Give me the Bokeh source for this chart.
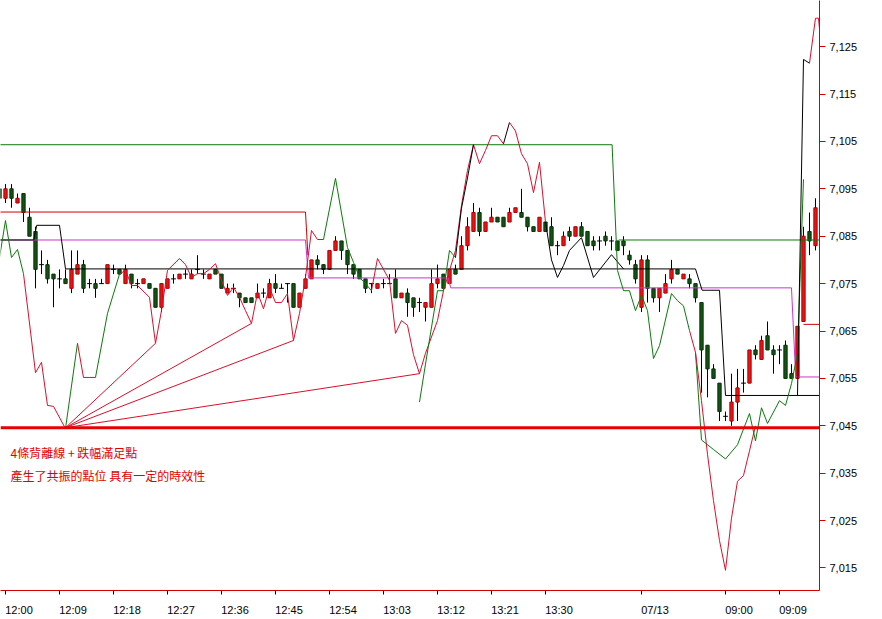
import numpy as np
from bokeh.plotting import figure
from bokeh.models import Range1d, FixedTicker, NumeralTickFormatter, Label, Span, ColumnDataSource
from bokeh.embed import file_html
from bokeh.resources import INLINE

# ---------------- data ----------------
bar_start = -1
opens = [7095,7093,7095,7092,7094,7089,7086,7079,7079,7077,7076,7076,7074,7077,7079,7075,7075,7075,7075,7078,7078,
         7075,7077,7075,7075,7075,7074,7070,7074,7076,7076,7077,7076,7078,7077,7076,7078,7077,7073,7074,7073,
         7072,7072,7072,7073,7072,7075,7074,7075,7075,7070,7074,7076,7080,7079,7078,7082,7084,7082,7079,7078,
         7076,7075,7074,7075,7075,7076,7072,7073,7072,7071,7070,7070,7075,7077,7075,7078,7078,7083,7086,7090,
         7086,7088,7089,7089,7088,7090,7090,7089,7087,7086,7088,7087,7083,7083,7086,7085,7087,7086,7084,7084,
         7085,7084,7084,7084,7081,7079,7070,7080,7074,7072,7073,7076,7078,7076,7076,7075,7071,7062,7057,7054,
         7047,7046,7050,7054,7054,7061,7059,7064,7061,7061,7062,7056,7055,7067,7086,7083]
highs = [7096,7096,7096,7094,7094,7091,7087,7082,7080,7077,7078,7078,7082,7082,7080,7076,7076,7076,7079,7079,7078,
         7079,7077,7076,7076,7075,7074,7075,7076,7077,7077,7078,7078,7081,7078,7077,7078,7077,7075,7075,7073,
         7072,7072,7075,7074,7076,7077,7075,7075,7075,7073,7077,7080,7081,7079,7082,7085,7084,7082,7079,7078,
         7076,7075,7075,7076,7077,7078,7073,7074,7072,7072,7071,7078,7079,7077,7078,7079,7085,7089,7092,7091,
         7088,7091,7089,7089,7091,7091,7095,7089,7087,7089,7088,7089,7084,7086,7087,7087,7088,7086,7085,7085,
         7086,7085,7084,7085,7082,7080,7081,7081,7074,7074,7077,7080,7078,7077,7077,7075,7071,7062,7058,7054,
         7048,7056,7057,7057,7061,7062,7064,7067,7062,7062,7063,7058,7066,7087,7090,7093]
lows = [7092,7092,7091,7092,7088,7085,7074,7077,7075,7070,7074,7075,7073,7077,7073,7074,7072,7075,7075,7077,7077,
        7075,7074,7074,7075,7074,7070,7069,7074,7075,7076,7076,7076,7077,7076,7076,7077,7074,7073,7073,7070,
        7071,7071,7072,7072,7072,7073,7074,7071,7070,7070,7074,7076,7078,7077,7078,7082,7080,7077,7076,7076,
        7073,7073,7074,7074,7075,7072,7072,7068,7068,7069,7067,7070,7074,7074,7075,7077,7078,7082,7086,7085,
        7086,7088,7088,7087,7088,7090,7089,7086,7086,7086,7086,7083,7081,7083,7084,7085,7085,7083,7082,7082,
        7083,7082,7082,7081,7079,7075,7069,7071,7071,7069,7073,7075,7077,7076,7074,7071,7052,7051,7055,7046,
        7046,7045,7046,7052,7054,7059,7059,7061,7056,7058,7055,7055,7055,7067,7081,7082]
closes = [7093,7095,7093,7093,7090,7085,7078,7079,7076,7076,7076,7075,7078,7079,7074,7075,7074,7075,7079,7078,7077,
          7078,7075,7075,7076,7074,7070,7075,7076,7076,7077,7077,7077,7078,7077,7077,7077,7074,7074,7074,7072,
          7071,7071,7073,7073,7075,7074,7074,7075,7070,7073,7076,7080,7079,7078,7082,7084,7082,7079,7077,7076,
          7074,7075,7075,7075,7075,7072,7073,7071,7070,7071,7071,7075,7076,7074,7078,7077,7083,7087,7090,7086,
          7088,7089,7088,7087,7090,7091,7089,7087,7086,7089,7086,7083,7083,7085,7085,7087,7085,7083,7083,7084,
          7084,7084,7082,7083,7080,7076,7080,7074,7072,7074,7075,7078,7077,7077,7075,7072,7061,7057,7055,7048,
          7047,7050,7053,7054,7061,7060,7063,7061,7060,7061,7055,7055,7066,7085,7084,7091]

time_tick_bars = [0, 9, 18, 27, 36, 45, 54, 63, 72, 81, 90, 106, 120, 129]
time_tick_labels = ["12:00", "12:09", "12:18", "12:27", "12:36", "12:45", "12:54",
                    "13:03", "13:12", "13:21", "13:30", "07/13", "09:00", "09:09"]
price_ticks = [7015, 7025, 7035, 7045, 7055, 7065, 7075, 7085, 7095, 7105, 7115, 7125, 7135]

support_level = 7044.6
fan_origin_bar = 10
fan_origin_value = 7044.6
fan_end_bars = [25, 41, 48, 69]
fan_end_values = [7062.4, 7066.6, 7063.0, 7056.0]

# stepped levels
green_step_bars = [-2, 101.1]
green_step_vals = [7104.3, 7104.3]
green_step2_bars = [102.2, 137]
green_step2_vals = [7084.2, 7084.2]
red_step_bars = [-2, 50, 50.4]
red_step_vals = [7090.1, 7090.1, 7081.0]
red_step2_bars = [133, 137]
red_step2_vals = [7066.4, 7066.4]
magenta_bars = [-2, 50, 50.5, 73.8, 74.2, 131.0, 131.7, 137]
magenta_vals = [7084.2, 7084.2, 7076.2, 7076.2, 7074.1, 7074.1, 7055.3, 7055.3]
black_step_bars = [-2, 4.7, 5.2, 9, 10, 115, 116.1, 119, 120, 137]
black_step_vals = [7084.2, 7084.2, 7087.3, 7087.3, 7078.1, 7078.1, 7073.6, 7073.6, 7051.4, 7051.4]

# oscillating curves (vertex bars / values / segment colours G=green R=red K=black)
curve_a_bars = [-1, 0, 1, 2, 3, 5, 6, 7, 8, 10, 12, 13, 15, 17, 19, 20, 21, 22, 24, 25, 26, 27, 29, 30, 31, 32,
                33, 34, 35, 36, 37, 38, 39, 40, 41, 42, 43, 44, 45, 46, 47, 48, 49, 50, 51, 52, 53, 55, 57, 58,
                59, 60, 61, 62, 64, 65, 66, 67, 68, 69, 70, 72, 73, 75, 76, 77, 78, 79, 80, 81, 82, 83, 84, 85,
                86, 87, 88, 89, 90, 91, 92, 93, 94, 96, 98, 101, 103]
curve_a_vals = [7080.5, 7088.3, 7080.5, 7082.2, 7077.1, 7056.2, 7058.4, 7049.3, 7049.1, 7044.4, 7062.4, 7055.2,
                7055.2, 7068.7, 7077.0, 7077.8, 7074.6, 7074.6, 7072.1, 7062.4, 7069.3, 7077.8, 7080.3, 7079.0,
                7076.3, 7077.1, 7077.1, 7078.0, 7079.2, 7075.7, 7072.5, 7074.2, 7072.1, 7069.3, 7066.6, 7073.1,
                7069.7, 7074.2, 7071.0, 7071.0, 7072.9, 7063.0, 7068.7, 7076.3, 7086.2, 7084.3, 7084.3, 7097.2,
                7082.6, 7079.5, 7076.3, 7075.0, 7073.5, 7080.3, 7075.7, 7064.5, 7067.2, 7066.2, 7060.0, 7056.0,
                7060.3, 7067.2, 7073.5, 7082.0, 7091.5, 7098.9, 7104.3, 7100.3, 7103.1, 7106.2, 7106.2, 7104.5,
                7109.0, 7107.2, 7102.4, 7100.3, 7094.2, 7100.6, 7088.0, 7080.0, 7076.3, 7078.8, 7082.0, 7084.7,
                7076.3, 7081.1, 7078.1]
curve_a_cols = "GGGGRRRRRGRRGG" + "R" * 31 + "GGGGGGG" + "R" * 19 + "K" + "R" * 6 + "K" * 15

curve_b_bars = [69, 70, 72, 73, 74, 75, 76, 77, 78]
curve_b_vals = [7050.0, 7058.0, 7073.5, 7073.5, 7082.0, 7080.5, 7090.9, 7097.3, 7104.3]
curve_b_cols = "GGGGGKKK"

curve_c_bars = [101.1, 102, 103, 104, 105, 106, 107, 108, 109, 111, 112, 113, 114, 115, 116]
curve_c_vals = [7104.3, 7077.8, 7073.5, 7073.5, 7069.3, 7072.5, 7069.3, 7059.2, 7061.9, 7072.9, 7071.4,
                7070.3, 7065.1, 7060.5, 7042.0]
curve_c_cols = "GGGGGGGGGGGGRG"

curve_d_bars = [115, 116, 117, 118, 119, 120, 121, 122, 123, 124, 125]
curve_d_vals = [7060.5, 7050.3, 7039.0, 7029.2, 7020.8, 7014.5, 7025.5, 7033.3, 7034.5, 7039.7, 7045.0]
curve_d_cols = "RRRRRRRRRR"

curve_e_bars = [116, 118, 120, 122, 124, 125, 126, 127, 129, 130, 131, 132, 133]
curve_e_vals = [7042.0, 7040.0, 7038.0, 7041.0, 7047.6, 7041.8, 7048.8, 7045.5, 7050.3, 7049.3, 7053.9,
                7060.3, 7097.0]
curve_e_cols = "GGGGGGGGGGGG"

curve_f_bars = [132, 133, 134, 135, 135.5, 135.8]
curve_f_vals = [7051.4, 7122.3, 7121.5, 7131.0, 7131.0, 7127.0]
curve_f_cols = "KKRRR"

annotation_lines = ["4條背離線 + 跌幅滿足點", "產生了共振的點位  具有一定的時效性"]

# ---------------- styling ----------------
RED = "#e81414"
RED_LINE = "#d8102c"
GREEN_BODY = "#125512"
GREEN_LINE = "#0c7a0c"
MAGENTA = "#cc33cc"
COLS = {"G": GREEN_LINE, "R": RED_LINE, "K": "#000000"}

x_lo, x_hi = -0.8333, 135.6667
y_lo, y_hi = 7010.25, 7134.73

p = figure(frame_width=819, frame_height=590, x_range=Range1d(x_lo, x_hi), y_range=Range1d(y_lo, y_hi),
           y_axis_location="right", output_backend="svg", toolbar_location=None,
           min_border_left=0, min_border_top=0, min_border_right=63, min_border_bottom=29)
p.outline_line_color = None
p.xgrid.visible = False
p.ygrid.visible = False
p.background_fill_color = "white"
p.border_fill_color = "white"

# right price axis
yax = p.yaxis[0]
yax.ticker = FixedTicker(ticks=price_ticks)
yax.formatter = NumeralTickFormatter(format="0,0")
yax.axis_line_color = "#d00000"
yax.major_tick_line_color = "#d00000"
yax.major_tick_out = 6
yax.major_tick_in = 0
yax.minor_tick_line_color = None
yax.major_label_text_font = "Liberation Sans"
yax.major_label_text_font_size = "11px"
yax.major_label_text_color = "#000000"
yax.major_label_standoff = 4

# time axis: tick marks at the bars (minor ticks), labels start at their tick (major ticks hold the labels)
LABEL_SHIFT = 2.25
label_pos = [b + LABEL_SHIFT for b in time_tick_bars]
xax = p.xaxis[0]
xax.ticker = FixedTicker(ticks=label_pos, minor_ticks=time_tick_bars)
xax.major_label_overrides = {pos: t for pos, t in zip(label_pos, time_tick_labels)}
xax.axis_line_color = "#d00000"
xax.major_tick_line_color = None
xax.major_tick_out = 0
xax.major_tick_in = 0
xax.minor_tick_line_color = "#000000"
xax.minor_tick_out = 4
xax.minor_tick_in = 0
xax.major_label_standoff = 9
xax.major_label_text_font = "Liberation Sans"
xax.major_label_text_font_size = "11px"
xax.major_label_text_color = "#000000"

# candles
bars = np.arange(bar_start, bar_start + len(opens))
o = np.array(opens, float); h = np.array(highs, float)
l = np.array(lows, float); c = np.array(closes, float)
up = c > o; dn = c < o; dj = c == o
p.segment(bars, h, bars, l, color="black", line_width=1)
p.vbar(x=bars[up], width=0.55, bottom=o[up], top=c[up], fill_color=RED, line_color="#b00000", line_width=1)
p.vbar(x=bars[dn], width=0.55, bottom=c[dn], top=o[dn], fill_color=GREEN_BODY, line_color="#0a300a", line_width=1)
p.segment(bars[dj] - 0.4, o[dj], bars[dj] + 0.4, o[dj], color="black", line_width=1)

# support line and divergence fan
p.add_layout(Span(location=support_level, dimension="width", line_color="#e80000", line_width=3))
p.segment([fan_origin_bar] * len(fan_end_bars), [fan_origin_value] * len(fan_end_bars),
          fan_end_bars, fan_end_values, color=RED_LINE, line_width=1)

# stepped levels
p.line(green_step_bars, green_step_vals, color=GREEN_LINE, line_width=1)
p.line(green_step2_bars, green_step2_vals, color=GREEN_LINE, line_width=1)
p.line(magenta_bars, magenta_vals, color=MAGENTA, line_width=1)
p.line(red_step_bars, red_step_vals, color="#d00000", line_width=1)
p.line(red_step2_bars, red_step2_vals, color="#d00000", line_width=1)
p.line(black_step_bars, black_step_vals, color="black", line_width=1)

# coloured curves
def add_curve(bs, vs, cs):
    src = ColumnDataSource(dict(x0=bs[:-1], y0=vs[:-1], x1=bs[1:], y1=vs[1:], col=[COLS[k] for k in cs]))
    p.segment("x0", "y0", "x1", "y1", color="col", line_width=1, source=src)

for bs, vs, cs in [(curve_a_bars, curve_a_vals, curve_a_cols), (curve_b_bars, curve_b_vals, curve_b_cols),
                   (curve_c_bars, curve_c_vals, curve_c_cols), (curve_d_bars, curve_d_vals, curve_d_cols),
                   (curve_e_bars, curve_e_vals, curve_e_cols), (curve_f_bars, curve_f_vals, curve_f_cols)]:
    add_curve(bs, vs, cs)

# annotation text
for i, t in enumerate(annotation_lines):
    p.add_layout(Label(x=0.85, y=7039.3 - 4.8 * i, text=t, text_align="left", text_baseline="middle",
                       text_font="Noto Sans CJK TC", text_font_size="12px", text_color="#e00000"))

open("out.html", "w").write(file_html(p, INLINE))
